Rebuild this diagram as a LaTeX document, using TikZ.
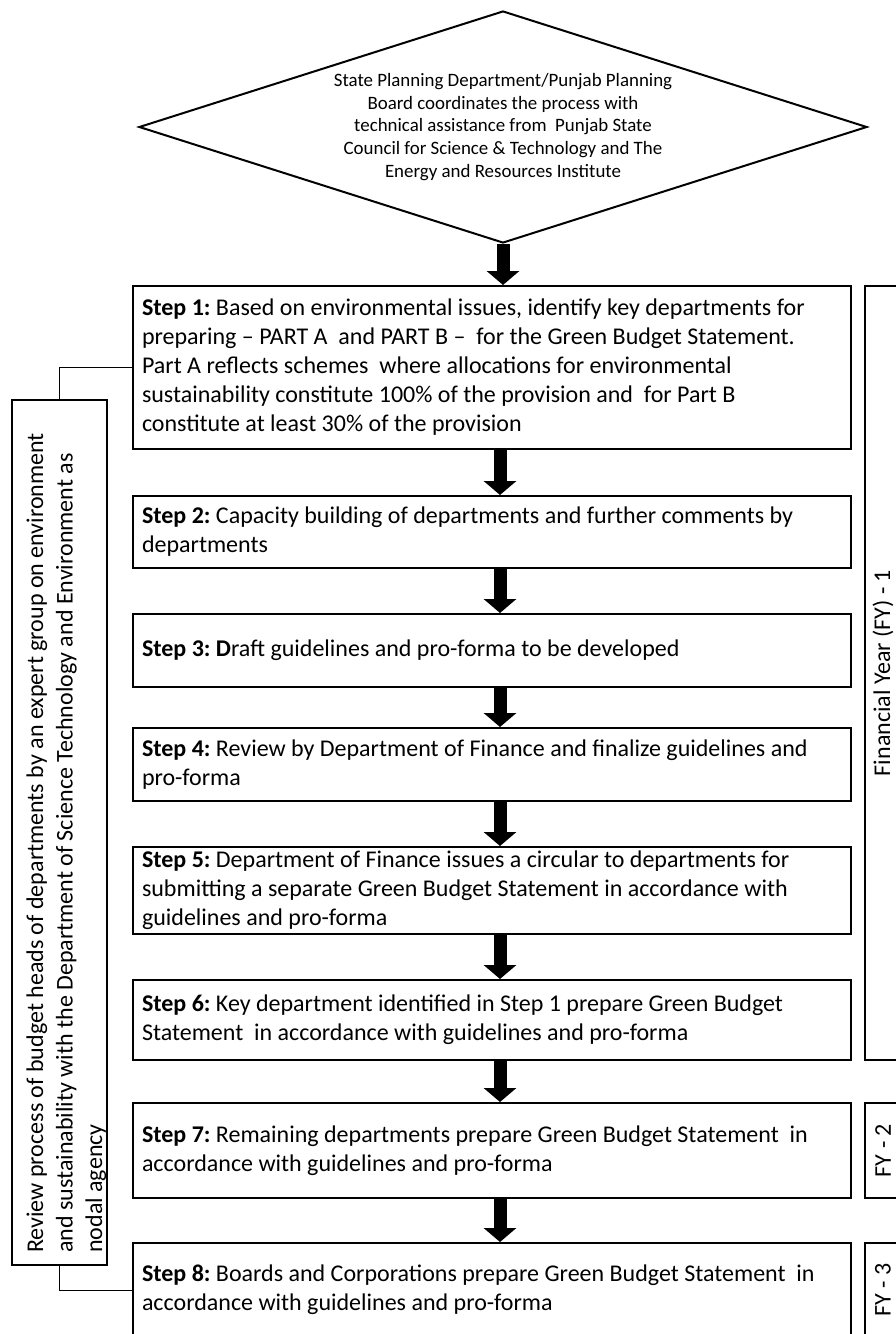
\documentclass[tikz,border=0pt]{standalone}
\usepackage{fontspec}
\setmainfont{Carlito}
\frenchspacing
\usetikzlibrary{shapes.geometric,arrows.meta}
\tikzset{
  natsp/.style={execute at begin node={\spaceskip=0pt\xspaceskip=0pt\frenchspacing}},
  stepbox/.style={natsp, draw, line width=2pt, rectangle, text width=700pt, inner xsep=9pt, inner ysep=0pt, align=left, font=\fontsize{24}{29}\selectfont},
  fybox/.style={natsp, draw, line width=2pt, rectangle, rotate=90, minimum height=36pt, inner sep=0pt, font=\fontsize{24}{29}\selectfont},
  sidebox/.style={draw, line width=2pt, rectangle, rotate=90, minimum width=865pt, minimum height=95pt, inner sep=0pt},
  sidetext/.style={natsp, rotate=90, anchor=north west, inner sep=0pt, align=left, font=\fontsize{24}{29.5}\selectfont},
  topdiamond/.style={natsp, draw, line width=2pt, diamond, aspect=3.14, minimum width=728pt, minimum height=232pt, inner sep=0pt, align=center, font=\fontsize{18.9}{22.6}\selectfont},
  bigarrow/.style={line width=13pt, -{Triangle[width=32pt,length=14pt]}},
  link/.style={line width=1pt}
}
\begin{document}
\begin{tikzpicture}[x=1pt,y=-1pt]
\path[fill=white] (0,0) rectangle (895,1334);
\useasboundingbox (0,0) rectangle (895,1334);

\node[topdiamond] (d) at (503,127) {State Planning Department/Punjab Planning\\Board coordinates the process with\\technical assistance from\ \ Punjab State\\Council for Science \& Technology and The\\Energy and Resources Institute};

\node[stepbox, minimum height=163pt] (s1) at (492,367.5) {\mbox{\textbf{Step 1:} Based on environmental issues, identify key departments for}\\\mbox{preparing -- PART A\ \ and PART B --\ \ for the Green Budget Statement.}\\\mbox{Part A reflects schemes\ \ where allocations for environmental}\\\mbox{sustainability constitute 100\% of the provision and\ \ for Part B}\\\mbox{constitute at least 30\% of the provision}};
\node[stepbox, minimum height=72pt] (s2) at (492,532) {\mbox{\textbf{Step 2:} Capacity building of departments and further comments by}\\\mbox{departments}};
\node[stepbox, minimum height=73pt] (s3) at (492,650.5) {\mbox{\textbf{Step 3: D}raft guidelines and pro-forma to be developed}};
\node[stepbox, minimum height=73pt] (s4) at (492,764.5) {\mbox{\textbf{Step 4:} Review by Department of Finance and finalize guidelines and}\\\mbox{pro-forma}};
\node[stepbox, minimum height=87pt] (s5) at (492,890.5) {\mbox{\textbf{Step 5:} Department of Finance issues a circular to departments for}\\\mbox{submitting a separate Green Budget Statement in accordance with}\\\mbox{guidelines and pro-forma}};
\node[stepbox, minimum height=80pt] (s6) at (492,1020) {\mbox{\textbf{Step 6:} Key department identified in Step 1 prepare Green Budget}\\\mbox{Statement\ \ in accordance with guidelines and pro-forma}};
\node[stepbox, minimum height=95pt] (s7) at (492,1150.5) {\mbox{\textbf{Step 7:} Remaining departments prepare Green Budget Statement\ \ in}\\\mbox{accordance with guidelines and pro-forma}};
\node[stepbox, minimum height=94pt] (s8) at (492,1290) {\mbox{\textbf{Step 8:} Boards and Corporations prepare Green Budget Statement\ \ in}\\\mbox{accordance with guidelines and pro-forma}};

\node[fybox, minimum width=774pt] (fy1) at (883,673) {Financial Year (FY) - 1};
\node[fybox, minimum width=95pt] (fy2) at (883,1150.5) {FY - 2};
\node[fybox, minimum width=94pt] (fy3) at (883,1290) {FY - 3};

\node[sidebox] (sb) at (59.5,832.5) {};
\node[sidetext] (sbt) at (24,1253) {\mbox{\rule{0pt}{19pt}Review process of budget heads of departments by an expert group on environment}\\\mbox{and sustainability with the Department of Science Technology and Environment as}\\\mbox{nodal agency}};

\coordinate (ax) at (500,0);
\draw[bigarrow] (d.south) -- (s1.north -| d.south);
\draw[bigarrow] (s1.south -| ax) -- (s2.north -| ax);
\draw[bigarrow] (s2.south -| ax) -- (s3.north -| ax);
\draw[bigarrow] (s3.south -| ax) -- (s4.north -| ax);
\draw[bigarrow] (s4.south -| ax) -- (s5.north -| ax);
\draw[bigarrow] (s5.south -| ax) -- (s6.north -| ax);
\draw[bigarrow] (s6.south -| ax) -- (s7.north -| ax);
\draw[bigarrow] (s7.south -| ax) -- (s8.north -| ax);

\draw[link] (s1.west) -| (sb.east);
\draw[link] (sb.west) |- (s8.west);
\end{tikzpicture}
\end{document}
